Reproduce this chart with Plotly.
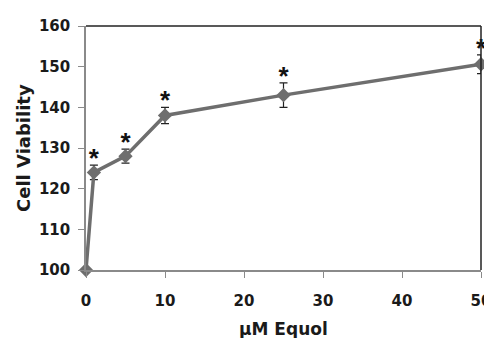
import plotly.graph_objects as go

dose = [0, 1, 5, 10, 25, 50]
viability = [100, 124, 128, 138, 143, 150.6]
err = [0, 1.8, 1.7, 2.0, 3.0, 2.3]
significant = [False, True, True, True, True, True]
y_ticks = [100, 110, 120, 130, 140, 150, 160]
x_ticks = [0, 10, 20, 30, 40, 50]
x_title = "μM Equol"
y_title = "Cell Viability"

FAM = "DejaVu Sans"
TICKF = dict(family=FAM, size=15, weight="bold", color="#1a1a1a")

fig = go.Figure()
fig.add_trace(go.Scatter(
    x=dose, y=viability, mode="lines+markers",
    line=dict(color="#6e6e6e", width=3.5),
    marker=dict(symbol="diamond", size=11, color="#6e6e6e"),
    error_y=dict(type="data", array=err, visible=True, color="#222222",
                 thickness=1.2, width=4),
    showlegend=False, hoverinfo="skip", cliponaxis=False,
))
sx = [d for d, s in zip(dose, significant) if s]
sy = [v + e + 1.2 for v, e, s in zip(viability, err, significant) if s]
fig.add_trace(go.Scatter(
    x=sx, y=sy, mode="text", text=["<b>*</b>"] * len(sx),
    textposition="middle center",
    textfont=dict(family="Liberation Sans", size=26, color="#111111"),
    showlegend=False, hoverinfo="skip", cliponaxis=False,
))

fig.update_layout(
    width=484, height=330,
    margin=dict(l=78, r=11, t=18, b=68),
    paper_bgcolor="white", plot_bgcolor="white",
    font=dict(family=FAM, color="#1a1a1a"),
    xaxis=dict(range=[0, 50], tickvals=x_ticks, showgrid=False, zeroline=False,
               automargin=False,
               showline=True, linecolor="#8a8a8a", linewidth=1.5,
               ticks="outside", ticklen=6, tickcolor="#8a8a8a",
               tickfont=TICKF, ticklabelstandoff=10),
    yaxis=dict(range=[100, 160], tickvals=y_ticks, showgrid=False, zeroline=False,
               automargin=False,
               showline=True, linecolor="#8a8a8a", linewidth=1.5,
               ticks="outside", ticklen=6, tickcolor="#8a8a8a",
               tickfont=TICKF, ticklabelstandoff=5),
    annotations=[
        dict(text=f"<b>{x_title}</b>", xref="paper", yref="paper", x=0.5, y=0,
             xanchor="center", yanchor="middle", yshift=-59, showarrow=False,
             font=dict(family=FAM, size=17, color="#1a1a1a")),
        dict(text=f"<b>{y_title}</b>", xref="paper", yref="paper", x=0, y=0.5,
             xanchor="center", yanchor="middle", xshift=-63, textangle=-90,
             showarrow=False, font=dict(family=FAM, size=18, color="#1a1a1a")),
    ],
    shapes=[
        dict(type="line", xref="paper", yref="paper", x0=0, x1=1, y0=1, y1=1,
             line=dict(color="#222222", width=1.5)),
        dict(type="line", xref="paper", yref="paper", x0=1, x1=1, y0=0, y1=1,
             line=dict(color="#222222", width=1.5)),
    ],
)
fig.write_html("out.html")
